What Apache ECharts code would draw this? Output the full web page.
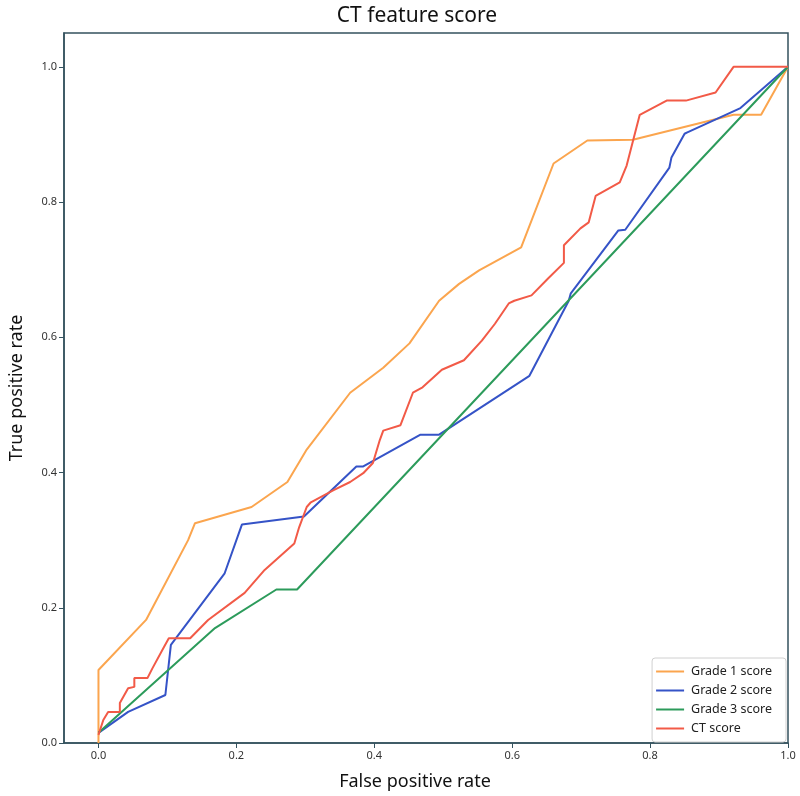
<!DOCTYPE html>
<html>
<head>
<meta charset="utf-8">
<script src="https://cdn.jsdelivr.net/npm/echarts@6/dist/echarts.min.js"></script>
<style>html,body{margin:0;padding:0;background:#fff;}#c{width:800px;height:796px;}</style>
</head>
<body>
<div id="c"></div>
<script>
const seriesNames = ['Grade 1 score', 'Grade 2 score', 'Grade 3 score', 'CT score'];
const xTicks = [0, 0.2, 0.4, 0.6, 0.8, 1.0];
const yTicks = [0, 0.2, 0.4, 0.6, 0.8, 1.0];

const grade1 = [[0,0],[0,0.108],[0.069,0.182],[0.130,0.300],[0.140,0.325],[0.222,0.349],[0.274,0.386],[0.302,0.434],[0.365,0.518],[0.413,0.555],[0.451,0.591],[0.494,0.654],[0.523,0.679],[0.552,0.699],[0.613,0.733],[0.660,0.857],[0.709,0.891],[0.775,0.892],[0.921,0.929],[0.961,0.929],[1,1]];
const grade2 = [[0,0.015],[0.043,0.046],[0.097,0.071],[0.105,0.145],[0.183,0.251],[0.208,0.323],[0.298,0.335],[0.374,0.409],[0.384,0.409],[0.467,0.456],[0.494,0.456],[0.625,0.543],[0.682,0.654],[0.685,0.665],[0.754,0.758],[0.764,0.759],[0.828,0.851],[0.831,0.866],[0.850,0.901],[0.854,0.903],[0.931,0.939],[1,1]];
const grade3 = [[0,0.015],[0.169,0.170],[0.258,0.227],[0.288,0.227],[1,1]];
const ctScore = [[0,0.012],[0.007,0.034],[0.014,0.046],[0.031,0.046],[0.031,0.059],[0.043,0.081],[0.052,0.083],[0.052,0.096],[0.071,0.096],[0.078,0.110],[0.095,0.142],[0.102,0.155],[0.133,0.155],[0.159,0.182],[0.212,0.222],[0.241,0.256],[0.284,0.295],[0.291,0.319],[0.302,0.349],[0.308,0.356],[0.341,0.374],[0.365,0.386],[0.384,0.399],[0.398,0.414],[0.408,0.448],[0.413,0.462],[0.438,0.470],[0.456,0.518],[0.470,0.526],[0.498,0.552],[0.530,0.566],[0.556,0.595],[0.575,0.620],[0.595,0.650],[0.603,0.654],[0.628,0.662],[0.652,0.687],[0.675,0.710],[0.675,0.736],[0.699,0.761],[0.711,0.770],[0.721,0.809],[0.756,0.829],[0.766,0.854],[0.785,0.929],[0.824,0.950],[0.852,0.950],[0.895,0.962],[0.921,1.0],[1,1]];

const colors = ['#FBA54E', '#3553C7', '#2C9B5B', '#F25A47'];
const frameColor = '#34525e';
const font = '"Noto Sans", "Open Sans", sans-serif';

const chart = echarts.init(document.getElementById('c'), null, {renderer: 'canvas'});
const datas = [grade1, grade2, grade3, ctScore];
chart.setOption({
  animation: false,
  backgroundColor: '#fff',
  title: {
    text: 'CT feature score',
    left: 412, top: 1, textAlign: 'center',
    textStyle: {fontFamily: font, fontSize: 21, fontWeight: 'normal', color: '#111'}
  },
  legend: {
    orient: 'vertical', right: 14, bottom: 54,
    data: seriesNames.map((n, i) => ({name: n, icon: 'rect', itemStyle: {color: colors[i]}})),
    itemWidth: 28, itemHeight: 2, itemGap: 6,
    backgroundColor: '#fff', borderColor: '#d0d0d0', borderWidth: 1, borderRadius: 3,
    padding: [7, 14, 7, 4],
    textStyle: {fontFamily: font, fontSize: 12.5, color: '#222', padding: [0, 0, 0, 2]}
  },
  grid: {left: 58, right: 12, top: 33, bottom: 52, show: true, borderColor: frameColor, borderWidth: 1.5, backgroundColor: '#fff'},
  xAxis: {
    type: 'value', min: -0.05, max: 1.0,
    name: 'False positive rate', nameLocation: 'middle', nameGap: 30,
    nameTextStyle: {fontFamily: font, fontSize: 18, color: '#111', padding: [0, 22, 0, 0]},
    axisLine: {show: true, onZero: false, lineStyle: {color: frameColor, width: 1.5}},
    axisTick: {show: true, length: 5, inside: false, customValues: xTicks, lineStyle: {color: frameColor}},
    axisLabel: {customValues: xTicks, fontFamily: font, fontSize: 11, color: '#333', margin: 7,
      formatter: v => v.toFixed(1)},
    splitLine: {show: false}
  },
  yAxis: {
    type: 'value', min: 0, max: 1.05,
    name: 'True positive rate', nameLocation: 'middle', nameGap: 38,
    nameTextStyle: {fontFamily: font, fontSize: 18, color: '#111'},
    axisLine: {show: true, onZero: false, lineStyle: {color: frameColor, width: 1.5}},
    axisTick: {show: true, length: 5, inside: false, customValues: yTicks, lineStyle: {color: frameColor}},
    axisLabel: {customValues: yTicks, fontFamily: font, fontSize: 11, color: '#333', margin: 7,
      formatter: v => v.toFixed(1)},
    splitLine: {show: false}
  },
  series: seriesNames.map((n, i) => ({
    name: n, type: 'line', data: datas[i], symbol: 'none', showSymbol: false,
    lineStyle: {color: colors[i], width: 2}, itemStyle: {color: colors[i]},
    z: 2 + i
  }))
});
</script>
</body>
</html>
